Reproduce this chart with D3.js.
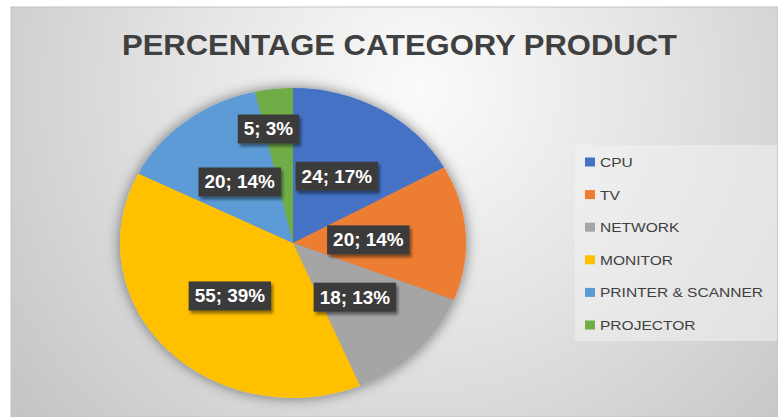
<!DOCTYPE html>
<html lang="en">
<head>
  <meta charset="UTF-8" />
  <title>Percentage Category Product</title>
  <style>
    body { margin: 0; background: #fff; }
    svg { display: block; }
  </style>
  <script src="https://d3js.org/d3.v7.min.js"></script>
</head>
<body>
  <div id="chart"></div>
  <script>
    // data
    var categories = ["CPU", "TV", "NETWORK", "MONITOR", "PRINTER & SCANNER", "PROJECTOR"];
    var values = [24, 20, 18, 55, 20, 5];
    var percents = [17, 14, 13, 39, 14, 3];
    var colors = ["#4472C4", "#ED7D31", "#A5A5A5", "#FFC000", "#5B9BD5", "#70AD47"];

    var w = 778;
    var h = 417;

    var svg = d3.select("#chart").append("svg")
      .attr("width", w)
      .attr("height", h);

    var defs = svg.append("defs");

    var bg = defs.append("radialGradient")
      .attr("id", "bg")
      .attr("gradientUnits", "userSpaceOnUse")
      .attr("cx", 420).attr("cy", 90).attr("r", 520);
    bg.append("stop").attr("offset", "0%").attr("stop-color", "#fbfbfb");
    bg.append("stop").attr("offset", "45%").attr("stop-color", "#e4e4e4");
    bg.append("stop").attr("offset", "100%").attr("stop-color", "#c4c4c4");

    var pieShadow = defs.append("filter").attr("id", "pieShadow")
      .attr("x", "-20%").attr("y", "-20%").attr("width", "140%").attr("height", "140%");
    pieShadow.append("feGaussianBlur").attr("in", "SourceAlpha").attr("stdDeviation", 7);
    pieShadow.append("feComponentTransfer").append("feFuncA").attr("type", "linear").attr("slope", 0.5);
    var m1 = pieShadow.append("feMerge");
    m1.append("feMergeNode");
    m1.append("feMergeNode").attr("in", "SourceGraphic");

    var boxShadow = defs.append("filter").attr("id", "boxShadow")
      .attr("x", "-20%").attr("y", "-30%").attr("width", "150%").attr("height", "170%");
    boxShadow.append("feGaussianBlur").attr("in", "SourceAlpha").attr("stdDeviation", 1.5);
    boxShadow.append("feOffset").attr("dx", 2).attr("dy", 3).attr("result", "off");
    boxShadow.append("feComponentTransfer").append("feFuncA").attr("type", "linear").attr("slope", 0.45);
    var m2 = boxShadow.append("feMerge");
    m2.append("feMergeNode");
    m2.append("feMergeNode").attr("in", "SourceGraphic");

    // chart area
    svg.append("rect")
      .attr("x", 11).attr("y", 7)
      .attr("width", w - 11).attr("height", h - 7)
      .attr("fill", "url(#bg)")
      .attr("stroke", "#c4c4c4")
      .attr("stroke-width", 1);

    svg.append("text")
      .attr("x", 122).attr("y", 55)
      .attr("textLength", 555)
      .attr("lengthAdjust", "spacingAndGlyphs")
      .style("font-family", "'Liberation Sans', Arial, sans-serif")
      .style("font-weight", "bold")
      .style("font-size", "30px")
      .attr("fill", "#404040")
      .text("PERCENTAGE CATEGORY PRODUCT");

    // pie (the picture is stretched a bit sideways, so the pie is an ellipse)
    var cx = 293, cy = 243;
    var r = 173;
    var sy = 155 / 173;

    var pie = d3.pie().sort(null).value(function(d) { return d; });
    var arcs = pie(values);

    var arc = d3.arc().innerRadius(0).outerRadius(r);
    var labelArc = d3.arc().innerRadius(r * 0.5).outerRadius(r * 0.5);

    var pieG = svg.append("g")
      .attr("transform", "translate(" + cx + "," + cy + ") scale(1," + sy + ")")
      .attr("filter", "url(#pieShadow)");

    pieG.selectAll("path")
      .data(arcs)
      .enter()
      .append("path")
      .attr("d", arc)
      .attr("fill", function(d, i) { return colors[i]; });

    // Excel moved two labels off the mid radius
    var labelShift = { "TV": [-11, 2], "PROJECTOR": [-15, -37] };

    var labels = svg.selectAll("g.lbl")
      .data(arcs)
      .enter()
      .append("g")
      .attr("class", "lbl")
      .attr("transform", function(d, i) {
        var c = labelArc.centroid(d);
        var s = labelShift[categories[i]] || [0, 0];
        return "translate(" + (cx + c[0] + s[0]) + "," + (cy + c[1] * sy + s[1]) + ")";
      });

    labels.append("rect")
      .attr("fill", "#3b3b3b")
      .attr("filter", "url(#boxShadow)");

    var ltext = labels.append("text")
      .attr("text-anchor", "middle")
      .attr("y", 6.5)
      .style("font-family", "'Liberation Sans', Arial, sans-serif")
      .style("font-weight", "bold")
      .style("font-size", "17.5px")
      .attr("fill", "#ffffff")
      .text(function(d, i) { return values[i] + "; " + percents[i] + "%"; });

    ltext.each(function() {
      var tw = this.getComputedTextLength() * 1.08;
      d3.select(this).attr("textLength", tw).attr("lengthAdjust", "spacingAndGlyphs");
      d3.select(this.parentNode).select("rect")
        .attr("x", -tw / 2 - 6).attr("y", -14.5)
        .attr("width", tw + 12).attr("height", 29);
    });

    // legend
    var legend = svg.append("g");
    legend.append("rect")
      .attr("x", 575).attr("y", 145)
      .attr("width", 202).attr("height", 196)
      .attr("fill", "#f2f2f2")
      .attr("opacity", 0.55);

    var rowY = d3.scalePoint().domain(categories).range([162, 325]);

    var items = legend.selectAll("g.item")
      .data(categories)
      .enter()
      .append("g")
      .attr("class", "item")
      .attr("transform", function(d) { return "translate(585," + rowY(d) + ")"; });

    items.append("rect")
      .attr("x", 0).attr("y", -4.5)
      .attr("width", 10).attr("height", 9)
      .attr("fill", function(d, i) { return colors[i]; });

    items.append("text")
      .attr("x", 15).attr("y", 5)
      .style("font-family", "'Liberation Sans', Arial, sans-serif")
      .style("font-size", "13.5px")
      .attr("fill", "#404040")
      .text(function(d) { return d; })
      .each(function() {
        var tw = this.getComputedTextLength() * 1.15;
        d3.select(this).attr("textLength", tw).attr("lengthAdjust", "spacingAndGlyphs");
      });
  </script>
</body>
</html>
